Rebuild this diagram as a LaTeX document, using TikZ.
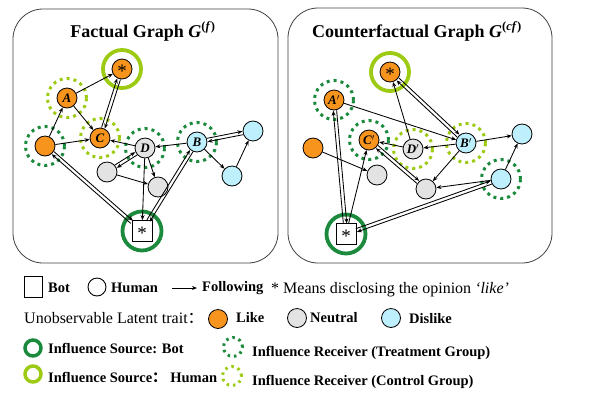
\documentclass[tikz,border=0pt]{standalone}
\usepackage{fontspec}
\setmainfont{Liberation Serif}
\newfontfamily\cjk{Noto Sans CJK SC}
\usetikzlibrary{arrows.meta,calc}

\definecolor{likeC}{HTML}{F7941D}
\definecolor{neutC}{HTML}{E3E3E3}
\definecolor{dislC}{HTML}{BDEFFD}
\definecolor{darkG}{HTML}{1B8A3C}
\definecolor{lightG}{HTML}{9DCB14}

\tikzset{
  user/.style={circle, draw, line width=0.8pt, minimum size=20pt, inner sep=0pt,
    font=\bfseries\itshape\fontsize{13}{13}\selectfont},
  likeN/.style={user, fill=likeC},
  neutN/.style={user, fill=neutC},
  dislN/.style={user, fill=dislC},
  botN/.style={draw, fill=white, line width=0.9pt, minimum width=20pt, minimum height=21pt, inner sep=0pt},
  follow/.style={line width=0.85pt, -{Stealth[length=5pt,width=4pt]}},
  frame/.style={draw=black!75, line width=0.8pt, rounded corners=30pt},
  titleT/.style={anchor=base, font=\bfseries\fontsize{18}{18}\selectfont},
  srcbot/.style={draw=darkG, line width=3.8pt},
  srchum/.style={draw=lightG, line width=3.8pt},
  rcvtreat/.style={draw=darkG, line width=3pt, dash pattern=on 3pt off 4pt},
  rcvctrl/.style={draw=lightG, line width=3pt, dash pattern=on 3pt off 4pt},
  legtext/.style={anchor=base west, inner sep=0pt, font=\bfseries\fontsize{14.5}{14.5}\selectfont},
  legreg/.style={anchor=base west, inner sep=0pt, font=\fontsize{16}{16}\selectfont},
}

\newcommand{\astr}{{\normalfont\fontsize{19}{19}\selectfont\raisebox{-0.47em}[0pt][0pt]{*}}}
\newcommand{\twoway}[4]{%
  \draw[follow, shorten <=#3, shorten >=#4] ($(#1)!1.7pt!90:(#2)$) -- ($(#2)!1.7pt!-90:(#1)$);
  \draw[follow, shorten <=#4, shorten >=#3] ($(#2)!1.7pt!90:(#1)$) -- ($(#1)!1.7pt!-90:(#2)$);
}

\begin{document}
\begin{tikzpicture}[x=1pt,y=-1pt]
\useasboundingbox (0,0) rectangle (597,392);
\draw[frame] (13,9) rectangle (278,263);
\draw[frame] (288,8) rectangle (552,263);
\node[titleT] (ftitle) at (143,37) {Factual Graph \textit{G}\textsuperscript{(\textit{f})}};
\node[titleT] (ctitle) at (417,37) {Counterfactual Graph \textit{G}\textsuperscript{(\textit{cf})}};

% factual graph
\node[likeN] (fs) at (122,69) {\astr};
\node[likeN] (fA) at (67,98) {A};
\node[likeN] (fC) at (100,138) {C};
\node[likeN] (fL) at (45,146) {};
\node[neutN] (fD) at (145,148) {D};
\node[dislN] (fB) at (197,142) {B};
\node[dislN] (fR1) at (253,131) {};
\node[dislN] (fR2) at (232,176) {};
\node[neutN] (fN1) at (107,172) {};
\node[neutN] (fN2) at (158,187) {};
\node[botN] (fbot) at (142,231) {\astr};

% counterfactual graph
\node[likeN] (cs) at (390,72) {\astr};
\node[likeN] (cA) at (334,100) {A$'$};
\node[likeN] (cC) at (369,140) {C$'$};
\node[likeN] (cL) at (313,148) {};
\node[neutN] (cD) at (413,149) {D$'$};
\node[dislN] (cB) at (466,143) {B$'$};
\node[dislN] (cR1) at (522,134) {};
\node[dislN] (cR2) at (501,179) {};
\node[neutN] (cN1) at (377,175) {};
\node[neutN] (cN2) at (426,189) {};
\node[botN] (cbot) at (346,234) {\astr};

\draw[srchum] (fs) circle (19pt);
\draw[srchum] (cs) circle (19pt);
\draw[srcbot] (fbot) circle (19.5pt);
\draw[srcbot] (cbot) circle (19.5pt);
\foreach \n in {fA,fC,cD,cB}
  \draw[rcvctrl] (\n) circle (19.5pt);
\foreach \n in {fL,fD,fB,cA,cC,cR2}
  \draw[rcvtreat] (\n) circle (19.5pt);

\draw[follow] (fA) -- (fs);
\twoway{fC}{fs}{10.5pt}{10.5pt}
\draw[follow] (fA) -- (fC);
\draw[follow] (fL) -- (fA);
\draw[follow] (fL) -- (fC);
\draw[follow] (fD) -- (fC);
\draw[follow] (fB) -- (fD);
\twoway{fB}{fR1}{10.5pt}{10.5pt}
\draw[follow] (fB) -- (fR2);
\draw[follow] (fR2) -- (fR1);
\twoway{fD}{fN1}{10.5pt}{10.5pt}
\draw[follow] (fD) -- (fN2);
\draw[follow] (fN1) -- (fN2);
\draw[follow] (fD) -- (fbot);
\twoway{fL}{fbot}{10.5pt}{13.5pt}
\twoway{fbot}{fB}{12pt}{10.5pt}

\draw[follow] (cD) -- (cs);
\twoway{cB}{cs}{10.5pt}{10.5pt}
\draw[follow] (cA) -- (cB);
\draw[follow] (cB) -- (cD);
\draw[follow] (cD) -- (cC);
\draw[follow] (cB) -- (cR1);
\draw[follow] (cB) -- (cN2);
\draw[follow] (cR2) -- (cN2);
\draw[follow] (cR2) -- (cR1);
\twoway{cC}{cN2}{10.5pt}{10.5pt}
\draw[follow] (cL) -- (cN1);
\draw[follow] (cbot) -- (cC);
\twoway{cA}{cbot}{10.5pt}{10.5pt}
\twoway{cbot}{cR2}{11pt}{10.5pt}

% legend
\node[draw, line width=0.9pt, minimum width=18pt, minimum height=21pt, inner sep=0pt] (lgbot) at (33,287) {};
\node[legtext] (lgbotT) at (48,292) {Bot};
\node[draw, circle, line width=0.9pt, minimum size=18pt, inner sep=0pt] (lghum) at (97,287) {};
\node[legtext] (lghumT) at (111,292) {Human};
\coordinate (lgfA) at (172,288);
\coordinate (lgfB) at (197,288);
\draw[follow] (lgfA) -- (lgfB);
\node[legtext] (lgfolT) at (202,291) {Following};
\node[legreg] (lgstarT) at (271,293) {* Means disclosing the opinion \textit{‘like’}};

\node[legreg] (lgtrait) at (24,323) {Unobservable Latent trait{\cjk ：}};
\node[likeN, minimum size=19pt] (lglike) at (218,319) {};
\node[legtext] (lglikeT) at (236,322) {Like};
\node[neutN, minimum size=19pt] (lgneut) at (297,318) {};
\node[legtext] (lgneutT) at (310,322) {Neutral};
\node[dislN, minimum size=19pt] (lgdisl) at (391,318) {};
\node[legtext] (lgdislT) at (409,323) {Dislike};

\draw[srcbot, line width=3.5pt] (33,348) circle (8pt);
\node[legtext] (lgsbT) at (48,353) {Influence Source: Bot};
\draw[srchum, line width=3.5pt] (33,374) circle (8pt);
\node[legtext] (lgshT) at (48,382) {Influence Source{\cjk ：}\ Human};
\draw[rcvtreat, dash pattern=on 2.5pt off 4pt] (233,347) circle (9.5pt);
\node[legtext] (lgrtT) at (252,356) {Influence Receiver (Treatment Group)};
\draw[rcvctrl, dash pattern=on 2.5pt off 4pt] (232,376) circle (9.5pt);
\node[legtext] (lgrcT) at (252,385) {Influence Receiver (Control Group)};
\end{tikzpicture}
\end{document}
